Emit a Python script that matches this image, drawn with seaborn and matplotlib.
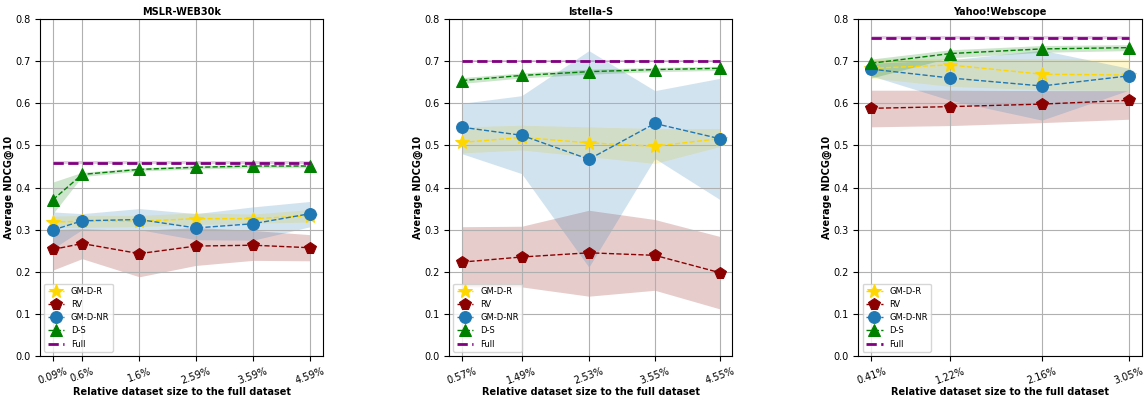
import numpy as np
import matplotlib
matplotlib.use("Agg")
import matplotlib.pyplot as plt
import seaborn as sns

plt.rcParams['font.family'] = ['DejaVu Sans']

# ---- data ----
titles = ["MSLR-WEB30k", "Istella-S", "Yahoo!Webscope"]

mslr_sizes = [0.09, 0.6, 1.6, 2.59, 3.59, 4.59]
mslr_gmdr = [0.318, 0.320, 0.320, 0.326, 0.326, 0.333]
mslr_gmdr_lo = [0.305, 0.305, 0.307, 0.312, 0.315, 0.318]
mslr_gmdr_hi = [0.332, 0.334, 0.334, 0.340, 0.337, 0.348]
mslr_rv = [0.253, 0.267, 0.243, 0.261, 0.263, 0.257]
mslr_rv_lo = [0.204, 0.231, 0.188, 0.215, 0.227, 0.226]
mslr_rv_hi = [0.300, 0.302, 0.298, 0.305, 0.298, 0.288]
mslr_gmdnr = [0.299, 0.321, 0.324, 0.304, 0.314, 0.338]
mslr_gmdnr_lo = [0.255, 0.300, 0.300, 0.276, 0.275, 0.307]
mslr_gmdnr_hi = [0.342, 0.338, 0.350, 0.338, 0.354, 0.367]
mslr_ds = [0.371, 0.431, 0.443, 0.448, 0.451, 0.451]
mslr_ds_lo = [0.338, 0.426, 0.439, 0.444, 0.447, 0.447]
mslr_ds_hi = [0.413, 0.436, 0.447, 0.452, 0.455, 0.455]
mslr_full = 0.459

ist_sizes = [0.57, 1.49, 2.53, 3.55, 4.55]
ist_gmdr = [0.507, 0.519, 0.506, 0.498, 0.516]
ist_gmdr_lo = [0.482, 0.489, 0.473, 0.457, 0.497]
ist_gmdr_hi = [0.544, 0.548, 0.544, 0.540, 0.540]
ist_rv = [0.223, 0.235, 0.245, 0.239, 0.198]
ist_rv_lo = [0.164, 0.164, 0.142, 0.156, 0.112]
ist_rv_hi = [0.307, 0.308, 0.346, 0.324, 0.284]
ist_gmdnr = [0.543, 0.524, 0.467, 0.552, 0.516]
ist_gmdnr_lo = [0.480, 0.433, 0.211, 0.469, 0.372]
ist_gmdnr_hi = [0.600, 0.618, 0.725, 0.630, 0.659]
ist_ds = [0.654, 0.666, 0.675, 0.680, 0.683]
ist_ds_lo = [0.647, 0.660, 0.669, 0.675, 0.678]
ist_ds_hi = [0.661, 0.672, 0.681, 0.685, 0.688]
ist_full = 0.700

yah_sizes = [0.41, 1.22, 2.16, 3.05]
yah_gmdr = [0.683, 0.691, 0.669, 0.667]
yah_gmdr_lo = [0.660, 0.640, 0.632, 0.630]
yah_gmdr_hi = [0.705, 0.706, 0.706, 0.705]
yah_rv = [0.588, 0.592, 0.598, 0.607]
yah_rv_lo = [0.544, 0.547, 0.554, 0.562]
yah_rv_hi = [0.631, 0.631, 0.630, 0.630]
yah_gmdnr = [0.681, 0.660, 0.641, 0.665]
yah_gmdnr_lo = [0.665, 0.607, 0.560, 0.631]
yah_gmdnr_hi = [0.695, 0.703, 0.726, 0.683]
yah_ds = [0.695, 0.718, 0.729, 0.732]
yah_ds_lo = [0.660, 0.708, 0.721, 0.725]
yah_ds_hi = [0.705, 0.727, 0.737, 0.739]
yah_full = 0.756

panels = [
    (mslr_sizes, [(mslr_gmdr, mslr_gmdr_lo, mslr_gmdr_hi), (mslr_rv, mslr_rv_lo, mslr_rv_hi),
                  (mslr_gmdnr, mslr_gmdnr_lo, mslr_gmdnr_hi), (mslr_ds, mslr_ds_lo, mslr_ds_hi)], mslr_full),
    (ist_sizes, [(ist_gmdr, ist_gmdr_lo, ist_gmdr_hi), (ist_rv, ist_rv_lo, ist_rv_hi),
                 (ist_gmdnr, ist_gmdnr_lo, ist_gmdnr_hi), (ist_ds, ist_ds_lo, ist_ds_hi)], ist_full),
    (yah_sizes, [(yah_gmdr, yah_gmdr_lo, yah_gmdr_hi), (yah_rv, yah_rv_lo, yah_rv_hi),
                 (yah_gmdnr, yah_gmdnr_lo, yah_gmdnr_hi), (yah_ds, yah_ds_lo, yah_ds_hi)], yah_full),
]

names = ["GM-D-R", "RV", "GM-D-NR", "D-S"]
colors = ["gold", "darkred", "tab:blue", "green"]
markers = ["*", "p", "o", "^"]
msizes = [10, 8.5, 8.5, 8]

fig, axes = plt.subplots(1, 3, figsize=(11.45, 3.96), dpi=100)
fig.subplots_adjust(left=0.035, right=0.997, top=0.952, bottom=0.101, wspace=0.445)

for ax, title, (sizes, series, full) in zip(axes, titles, panels):
    for name, col, mk, ms, (mean, lo, hi) in zip(names, colors, markers, msizes, series):
        ax.fill_between(sizes, lo, hi, color=col, alpha=0.2, linewidth=0)
        sns.lineplot(x=sizes, y=mean, ax=ax, color=col, marker=mk, markersize=ms,
                     linestyle="--", linewidth=1, markeredgecolor=col, label=name)
    full_line = [full] * len(sizes)
    ax.fill_between(sizes, [full - 0.003] * len(sizes), [full + 0.003] * len(sizes),
                    color="purple", alpha=0.2, linewidth=0)
    sns.lineplot(x=sizes, y=full_line, ax=ax, color="purple", linestyle="--",
                 linewidth=2, label="Full")
    ax.set_ylim(0, 0.8)
    ax.set_xticks(sizes)
    ax.set_xticklabels([f"{s:g}%" for s in sizes], rotation=20, fontsize=7)
    ax.tick_params(axis="y", labelsize=7)
    ax.grid(True)
    ax.set_title(title, fontsize=7, fontweight="bold", pad=3)
    ax.set_ylabel("Average NDCG@10", fontsize=7, fontweight="bold", labelpad=1)
    ax.set_xlabel("Relative dataset size to the full dataset", fontsize=7,
                  fontweight="bold", labelpad=1)
    ax.legend(loc="lower left", fontsize=6)

fig.savefig("out.png", dpi=100)
